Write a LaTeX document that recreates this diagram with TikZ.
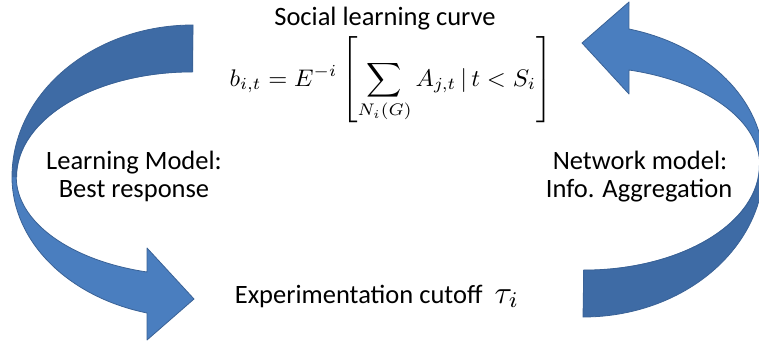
\documentclass[tikz,border=0pt]{standalone}
\usepackage{amsmath}
\usepackage{graphicx}
\usepackage{fontspec}
\setmainfont{Carlito}
\definecolor{arrdark}{HTML}{3E6BA5}
\definecolor{arrlight}{HTML}{4A7EBF}
\definecolor{arredge}{HTML}{3A6296}
\newcommand\mycurvedarrow{%
  \fill[arrlight] (12,177) arc[start angle=180,end angle=255.3,x radius=181pt,y radius=140.6pt]
    -- (147,340) -- (194,299) -- (147,248) -- (147,272)
    arc[start angle=255.1,end angle=180,x radius=176pt,y radius=98.4pt] -- cycle;
  \fill[arrdark] (193,25) arc[start angle=90,end angle=180,x radius=181pt,y radius=152pt]
    -- (17,177) arc[start angle=180,end angle=90,x radius=176pt,y radius=105pt] -- cycle;
  \draw[arredge,line width=0.8pt,line join=round]
    (193,25) arc[start angle=90,end angle=180,x radius=181pt,y radius=152pt]
    arc[start angle=180,end angle=255.3,x radius=181pt,y radius=140.6pt]
    -- (147,340) -- (194,299) -- (147,248) -- (147,272)
    arc[start angle=255.1,end angle=180,x radius=176pt,y radius=98.4pt]
    arc[start angle=180,end angle=90,x radius=176pt,y radius=105pt] -- cycle;
}
\begin{document}
\begin{tikzpicture}[x=1pt,y=-1pt,
  txt/.style={font=\fontsize{26.5}{30}\selectfont, inner sep=0pt, anchor=base}]
\useasboundingbox (0,0) rectangle (759,345);
\clip (0,0) rectangle (759,345);
\fill[white] (0,0) rectangle (759,345);
\mycurvedarrow
\begin{scope}[rotate around={180:(388,171)}]
\mycurvedarrow
\end{scope}
\node[txt] (soc) at (385,26) {Social learning curve};
\node[inner sep=0pt] (form) at (391,80)
  {\scalebox{2.45}[2.4]{$\displaystyle b_{i,t}=E^{-i}\left[\sum_{N_i(G)} A_{j,t}\,|\, t<S_i\right]$}};
\node[txt] (lm) at (134,169) {Learning Model:};
\node[txt] (br) at (134,197) {Best response};
\node[txt] (nm) at (640,169) {Network model:};
\node[txt] (ia) at (639,197) {Info. Aggregation};
\node[txt] (exp) at (377,303) {Experimentation cutoff\ \ {\normalsize\scalebox{3.2}{$\tau_i$}}};
\end{tikzpicture}
\end{document}
